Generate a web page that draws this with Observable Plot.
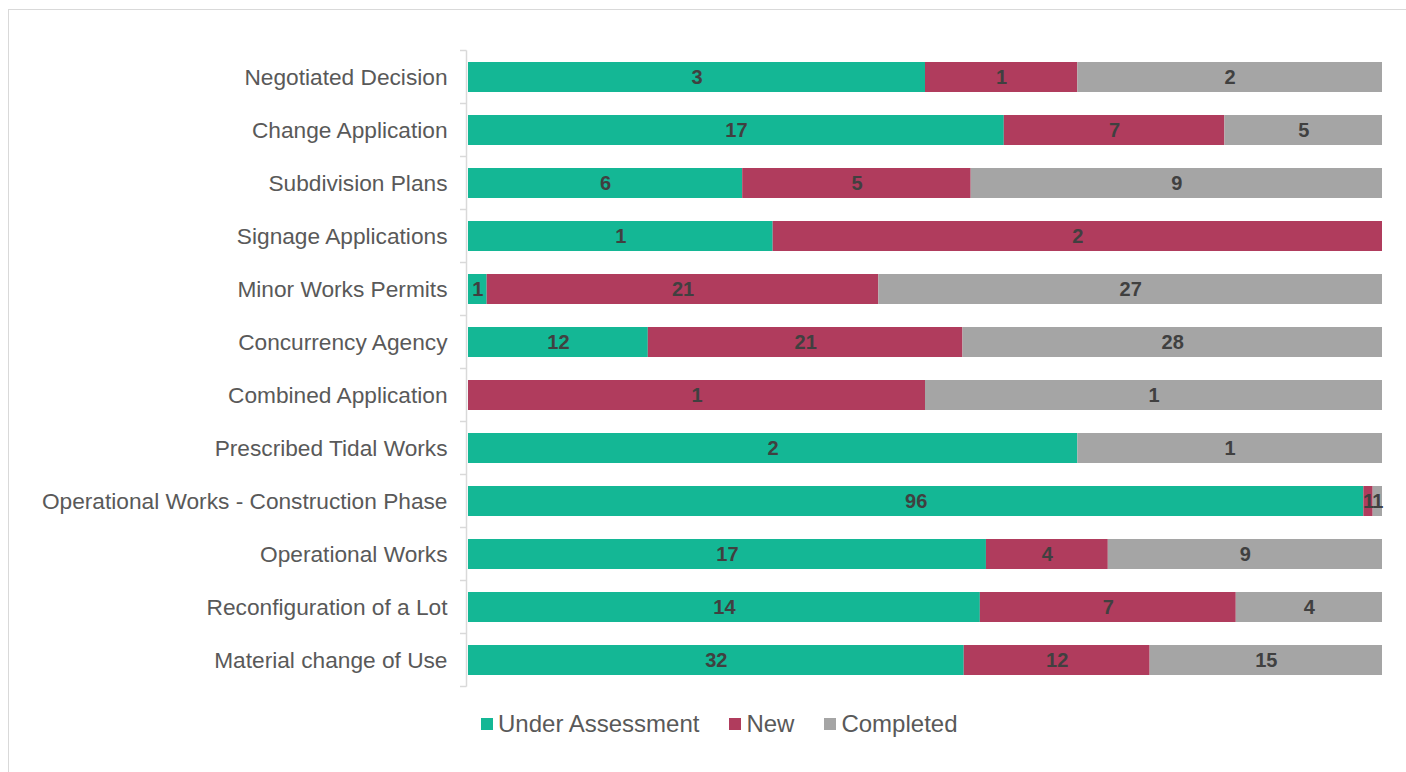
<!DOCTYPE html>
<html>
<head>
<meta charset="utf-8">
<script src="https://cdn.jsdelivr.net/npm/d3@7"></script>
<script src="https://cdn.jsdelivr.net/npm/@observablehq/plot@0.6"></script>
<style>
  html, body { margin: 0; padding: 0; background: #fff; }
  #wrap { position: relative; width: 1406px; height: 772px; overflow: hidden; font-family: "Liberation Sans", Arial, sans-serif; }
  #frame { position: absolute; left: 8px; top: 9px; width: 1420px; height: 800px; border: 1px solid #d9d9d9; box-sizing: border-box; }
  #chart { position: absolute; left: 0; top: 0; }
  #legend { position: absolute; top: 710px; left: 481px; display: flex; align-items: center; font-size: 24px; color: #595959; white-space: nowrap; }
  #legend .item { display: flex; align-items: center; margin-right: 30px; }
  #legend .sw { width: 12px; height: 12px; margin-right: 5px; }
</style>
</head>
<body>
<div id="wrap">
  <div id="frame"></div>
  <div id="chart"></div>
  <div id="legend"></div>
</div>
<script>
const categories = [
  "Negotiated Decision",
  "Change Application",
  "Subdivision Plans",
  "Signage Applications",
  "Minor Works Permits",
  "Concurrency Agency",
  "Combined Application",
  "Prescribed Tidal Works",
  "Operational Works - Construction Phase",
  "Operational Works",
  "Reconfiguration of a Lot",
  "Material change of Use"
];
const seriesNames = ["Under Assessment", "New", "Completed"];
const seriesColors = ["#14B795", "#B03C5D", "#A5A5A5"];
const underAssessment = [3, 17, 6, 1, 1, 12, 0, 2, 96, 17, 14, 32];
const newApps        = [1, 7, 5, 2, 21, 21, 1, 0, 1, 4, 7, 12];
const completed      = [2, 5, 9, 0, 27, 28, 1, 1, 1, 9, 4, 15];

const seriesValues = [underAssessment, newApps, completed];
const data = [];
categories.forEach((c, i) => {
  seriesNames.forEach((s, j) => {
    data.push({category: c, series: s, value: seriesValues[j][i]});
  });
});

const stackOpts = {
  x: "value",
  y: "category",
  z: "series",
  offset: "normalize",
  order: seriesNames
};

const plot = Plot.plot({
  width: 1406,
  height: 700,
  marginTop: 48,
  marginBottom: 12,
  marginLeft: 468,
  marginRight: 24,
  style: { fontFamily: "'Liberation Sans', Arial, sans-serif", background: "transparent" },
  x: { axis: null, domain: [0, 1] },
  y: { domain: categories, paddingInner: 0.4375, paddingOuter: 0.21875, label: null, tickSize: 0, tickPadding: 21 },
  color: { domain: seriesNames, range: seriesColors },
  marks: [
    Plot.barX(data, Plot.stackX({...stackOpts, fill: "series"})),
    Plot.text(data.filter(d => d.value > 0), Plot.stackX({
      ...stackOpts,
      text: "value",
      fill: "#404040",
      fontSize: 20,
      fontWeight: "bold"
    }))
  ]
});

document.getElementById("chart").appendChild(plot);

// Style y axis labels
const svg = d3.select(plot);
svg.selectAll("g[aria-label='y-axis tick label'] text, g[aria-label='y-axis tick label']")
  .attr("font-size", 22.7).attr("fill", "#595959");

// Axis line and band boundary ticks from the y scale
const ys = plot.scale("y");
const xs = plot.scale("x");
const step = ys.step, bw = ys.bandwidth;
const off = (step - bw) / 2;
const x0 = xs.apply(0);
const bounds = categories.map(c => ys.apply(c) - off);
bounds.push(ys.apply(categories[categories.length - 1]) + bw + off);
const g = svg.append("g").attr("stroke", "#d9d9d9").attr("stroke-width", 1.5);
g.append("line").attr("x1", x0 - 1.5).attr("x2", x0 - 1.5)
  .attr("y1", bounds[0]).attr("y2", bounds[bounds.length - 1]);
bounds.forEach(b => {
  g.append("line").attr("x1", x0 - 8).attr("x2", x0 - 1.5).attr("y1", b).attr("y2", b);
});

// Legend
const legend = d3.select("#legend");
seriesNames.forEach((s, i) => {
  const it = legend.append("div").attr("class", "item");
  it.append("div").attr("class", "sw").style("background", seriesColors[i]);
  it.append("span").text(s);
});
</script>
</body>
</html>
